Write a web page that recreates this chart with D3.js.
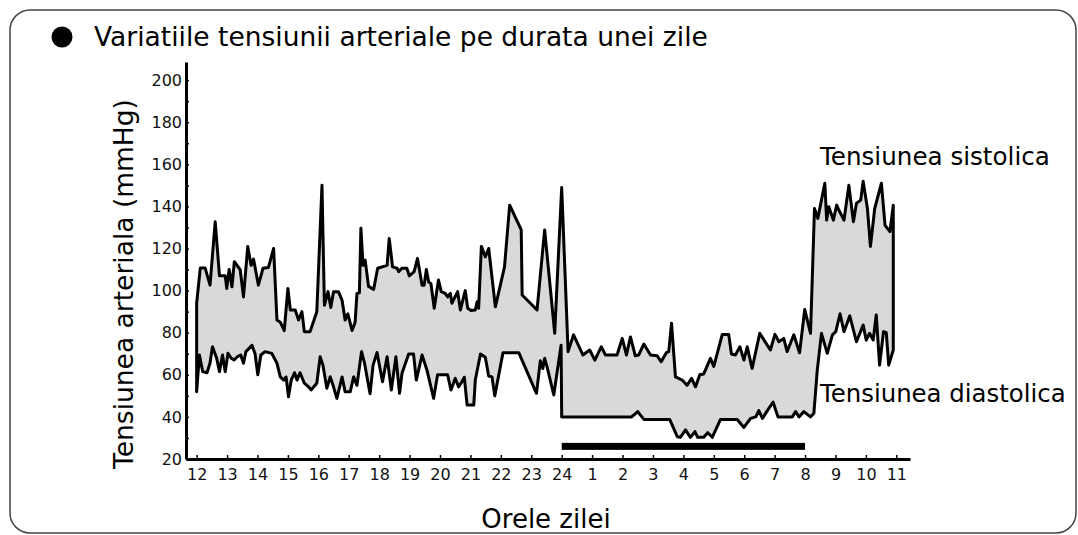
<!DOCTYPE html>
<html>
<head>
<meta charset="utf-8">
<script src="https://cdn.jsdelivr.net/npm/d3@7"></script>
<style>
  body { margin: 0; background: #fff; }
  svg { display: block; font-family: "DejaVu Sans", Verdana, sans-serif; }
</style>
</head>
<body>
<svg id="chart" width="1078" height="535"></svg>
<script>
// hours counted from noon: 24 = midnight, 25 = 1 am ... 35 = 11 am
const systolic = [
  [12.0, 94], [12.12, 110.7], [12.28, 110.7], [12.44, 102.6], [12.61, 132.7], [12.75, 107],
  [12.94, 107], [12.99, 101], [13.07, 110], [13.16, 101.8], [13.24, 113.7], [13.43, 110],
  [13.54, 97], [13.68, 121], [13.79, 112], [13.87, 115], [14.03, 102.6], [14.18, 110.6],
  [14.36, 111], [14.53, 120], [14.64, 86], [14.75, 85], [14.88, 81], [15.0, 101],
  [15.08, 90.8], [15.24, 90.8], [15.35, 86], [15.46, 90], [15.54, 80.5], [15.73, 80.5],
  [15.95, 90], [16.12, 150], [16.2, 93], [16.32, 99.5], [16.41, 92], [16.5, 99.5],
  [16.66, 99.5], [16.78, 95.5], [16.88, 86], [16.97, 89], [17.11, 81], [17.21, 85],
  [17.27, 98.7], [17.35, 99], [17.4, 129.6], [17.47, 112], [17.54, 114.5], [17.65, 102],
  [17.82, 100.6], [17.95, 110.6], [18.26, 112], [18.33, 124.8], [18.44, 111.3], [18.59, 110.6],
  [18.64, 109], [18.75, 110.6], [18.91, 110.6], [18.99, 107], [19.15, 109], [19.26, 115.3],
  [19.41, 102.6], [19.48, 102.6], [19.55, 110], [19.63, 104], [19.7, 103.4], [19.81, 91.6],
  [19.95, 105], [20.04, 99.5], [20.17, 98.7], [20.25, 97], [20.34, 98.7], [20.39, 94],
  [20.58, 99.5], [20.67, 90.8], [20.83, 100], [20.91, 91.6], [21.02, 90.5], [21.16, 90.8],
  [21.22, 94.7], [21.27, 91.6], [21.36, 121], [21.49, 116], [21.6, 120], [21.82, 92.3],
  [22.12, 111.3], [22.29, 140.6], [22.67, 128.8], [22.7, 97.9], [23.19, 90.8], [23.44, 128.8],
  [23.77, 79.7], [24.0, 149], [24.21, 71], [24.39, 79], [24.7, 69.4], [24.92, 71.8],
  [25.09, 67], [25.3, 73.3], [25.44, 69.4], [25.82, 69.4], [25.99, 77.3], [26.13, 69.4],
  [26.26, 78], [26.42, 69], [26.53, 69.4], [26.7, 74.6], [26.92, 69.4], [27.14, 69],
  [27.27, 66.2], [27.44, 70.5], [27.52, 71], [27.61, 84.5], [27.74, 59], [27.96, 57.5],
  [28.12, 55], [28.27, 58.3], [28.4, 54.3], [28.54, 60], [28.67, 60.4], [28.89, 67.8],
  [29.0, 64], [29.28, 79.2], [29.49, 79.2], [29.58, 69.9], [29.71, 69.4], [29.86, 73.3],
  [29.99, 67], [30.1, 73.3], [30.26, 63], [30.51, 79.7], [30.86, 71.8], [31.01, 79.2],
  [31.14, 75.7], [31.3, 77.3], [31.41, 71], [31.63, 79], [31.82, 70.5], [31.99, 91],
  [32.18, 79.7], [32.31, 139], [32.42, 134.3], [32.65, 151], [32.71, 133.5], [32.78, 139.8],
  [32.93, 133.5], [33.04, 140.6], [33.11, 138.3], [33.28, 133.5], [33.44, 150], [33.59, 132.7],
  [33.69, 141.5], [33.83, 143], [33.91, 152], [34.05, 139], [34.15, 121], [34.29, 139],
  [34.51, 151], [34.63, 131], [34.79, 128], [34.9, 140.6]
];

const diastolic = [
  [12.0, 52], [12.09, 69.4], [12.2, 61.5], [12.34, 61], [12.44, 65.6], [12.52, 73.3],
  [12.66, 67.8], [12.75, 61.5], [12.85, 69.4], [12.94, 61.5], [13.03, 70.2], [13.13, 68],
  [13.23, 67], [13.34, 68.6], [13.45, 69.4], [13.54, 65.5], [13.62, 71], [13.82, 74],
  [13.92, 70], [14.01, 60], [14.11, 69.4], [14.25, 71], [14.47, 70.2], [14.64, 65.5],
  [14.75, 59], [14.86, 57.5], [14.94, 59], [15.02, 49.6], [15.11, 57.5], [15.22, 61],
  [15.3, 57.5], [15.4, 61], [15.54, 56], [15.68, 54.3], [15.76, 52.8], [15.95, 56],
  [16.06, 68.6], [16.15, 64.6], [16.28, 53.6], [16.39, 59], [16.5, 54.3], [16.61, 48.8],
  [16.78, 59], [16.88, 52], [17.05, 52], [17.16, 59], [17.27, 55], [17.42, 71],
  [17.52, 65.5], [17.7, 51], [17.8, 64.6], [17.93, 70.6], [18.11, 56.7], [18.26, 68.6],
  [18.4, 52.8], [18.55, 68.6], [18.67, 51.2], [18.75, 60.7], [18.97, 69.9], [19.13, 69.9],
  [19.22, 57.5], [19.41, 69.4], [19.57, 62.3], [19.79, 48.8], [19.92, 60], [20.25, 60],
  [20.36, 52.8], [20.5, 58.3], [20.61, 54.3], [20.72, 56.7], [20.8, 58.8], [20.89, 45.6],
  [21.11, 45.6], [21.16, 57.5], [21.33, 69.9], [21.49, 68.3], [21.6, 59.4], [21.71, 59],
  [21.8, 50], [22.07, 70.5], [22.59, 70.5], [23.17, 51.2], [23.3, 66.7], [23.38, 63],
  [23.44, 67.8], [23.52, 63.8], [23.74, 50.4], [23.98, 74], [24.0, 40], [26.3, 40],
  [26.5, 42.5], [26.7, 38.8], [27.55, 38.8], [27.8, 30.6], [27.9, 30.3], [28.07, 33.8],
  [28.23, 30.3], [28.38, 33], [28.47, 30.3], [28.67, 30.3], [28.8, 32.5], [28.95, 30.3],
  [29.22, 38.8], [29.77, 38.8], [29.99, 35], [30.21, 39.3], [30.38, 40], [30.48, 43],
  [30.6, 39.3], [30.76, 43], [30.95, 47], [31.11, 40], [31.58, 40], [31.69, 42.5],
  [31.8, 40], [31.96, 42.5], [32.18, 40], [32.29, 41.7], [32.4, 62], [32.54, 79.7],
  [32.73, 70.2], [32.9, 79], [33.01, 80.5], [33.15, 89], [33.28, 80.5], [33.47, 88],
  [33.69, 75.7], [33.91, 83.6], [34.01, 76.5], [34.12, 79.7], [34.24, 76.5], [34.34, 88.4],
  [34.45, 64.6], [34.58, 80.5], [34.67, 80], [34.75, 64.6], [34.9, 71.8]
];

const hourTicks = d3.range(12, 36);          // 12 .. 35
const yMajorTicks = d3.range(20, 201, 20);
const yMinorTicks = d3.range(30, 200, 20);
const sleepPeriod = [24, 32];                 // black bar: midnight to 8
const sleepBarLevel = 26;

const titleText = 'Variatiile tensiunii arteriale pe durata unei zile';
const yTitle = 'Tensiunea arteriala (mmHg)';
const xTitle = 'Orele zilei';
const sysLabel = 'Tensiunea sistolica';
const diaLabel = 'Tensiunea diastolica';

const svg = d3.select('#chart');

// frame
svg.append('rect')
  .attr('x', 10).attr('y', 10)
  .attr('width', 1066).attr('height', 523)
  .attr('rx', 20).attr('ry', 20)
  .style('fill', 'none')
  .style('stroke', '#444')
  .style('stroke-width', 1.5);

// title
svg.append('circle')
  .attr('cx', 62).attr('cy', 37).attr('r', 10.5)
  .style('fill', '#000');
svg.append('text')
  .attr('x', 94).attr('y', 46)
  .text(titleText)
  .style('font-size', '26.5px')
  .style('fill', '#000');

const x = d3.scaleLinear().domain([11.65, 35.45]).range([186, 910]);
const y = d3.scaleLinear().domain([20, 208.6]).range([459, 62]);

// band between systolic and diastolic
const pts = systolic.concat(diastolic.slice().reverse());
const line = d3.line().x(d => x(d[0])).y(d => y(d[1]));

svg.append('path')
  .attr('d', line(pts) + 'Z')
  .style('fill', '#d9d9d9')
  .style('stroke', '#000')
  .style('stroke-width', 3)
  .style('stroke-linejoin', 'round');

// sleep bar
svg.append('rect')
  .attr('x', x(sleepPeriod[0]))
  .attr('y', y(sleepBarLevel) - 3.5)
  .attr('width', x(sleepPeriod[1]) - x(sleepPeriod[0]))
  .attr('height', 7)
  .style('fill', '#000');

// axes
svg.append('g')
  .attr('transform', 'translate(186,0)')
  .call(d3.axisLeft(y).tickValues(yMajorTicks).tickSizeInner(-3).tickSizeOuter(0).tickPadding(4));
const yMinor = svg.append('g')
  .attr('transform', 'translate(186,0)')
  .call(d3.axisLeft(y).tickValues(yMinorTicks).tickSizeInner(-3).tickSizeOuter(0).tickFormat(''));
yMinor.select('.domain').remove();

svg.append('g')
  .attr('transform', 'translate(0,459)')
  .call(d3.axisBottom(x).tickValues(hourTicks).tickSizeInner(-4).tickSizeOuter(0).tickPadding(10)
    .tickFormat(d => d <= 24 ? d : d - 24));

svg.selectAll('.domain').style('stroke', '#000').style('stroke-width', 3);
svg.selectAll('.tick line').style('stroke', '#000').style('stroke-width', 1.5);
svg.selectAll('.tick text')
  .style('font-family', '"DejaVu Sans", sans-serif')
  .style('font-size', '16px')
  .style('fill', '#111');

// axis titles
svg.append('text')
  .attr('transform', 'translate(133,284) rotate(-90)')
  .attr('text-anchor', 'middle')
  .text(yTitle)
  .style('font-size', '26.5px');

svg.append('text')
  .attr('x', 546).attr('y', 528)
  .attr('text-anchor', 'middle')
  .text(xTitle)
  .style('font-size', '26px');

// series labels
svg.append('text')
  .attr('x', 820).attr('y', 165)
  .text(sysLabel)
  .style('font-size', '24.6px');
svg.append('text')
  .attr('x', 820).attr('y', 402)
  .text(diaLabel)
  .style('font-size', '24.4px');
</script>
</body>
</html>
